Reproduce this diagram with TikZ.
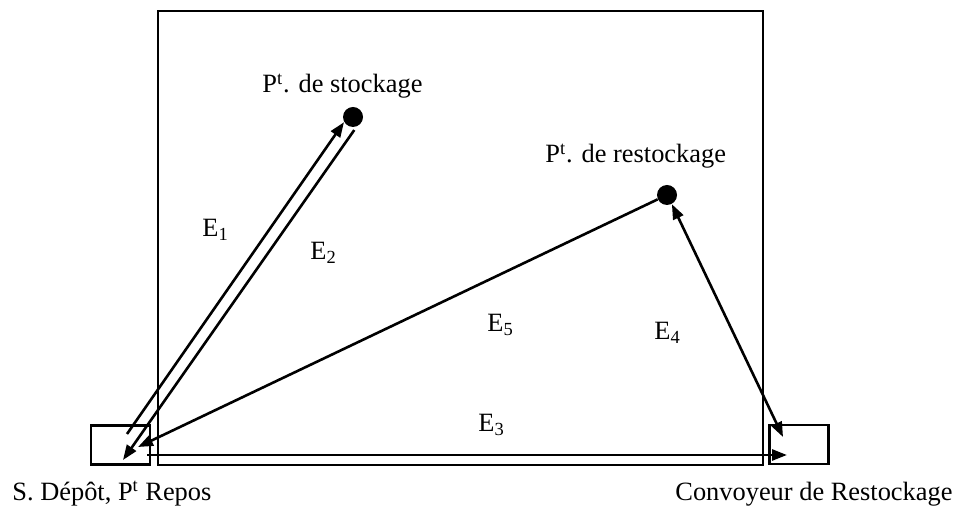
\documentclass[tikz,border=0pt]{standalone}
\usepackage{fontspec}
\setmainfont{Liberation Serif}
\usetikzlibrary{positioning,arrows.meta,calc}
\tikzset{
  zone/.style={rectangle, draw, line width=1.3pt, inner sep=0pt,
               minimum width=302.5pt, minimum height=227pt},
  quai/.style={rectangle, draw, line width=1.2pt, inner sep=0pt,
               minimum width=29.5pt, minimum height=19.5pt},
  pt/.style={circle, fill, inner sep=0pt, minimum size=10pt},
  lbl/.style={font=\fontsize{13.2}{15}\selectfont, inner sep=0pt},
  flow/.style={-{Triangle[length=7.5pt,width=5.5pt]}, line width=1.3pt},
  biflow/.style={{Triangle[length=7.5pt,width=5.5pt]}-{Triangle[length=7.5pt,width=5.5pt]},
                 line width=1.3pt},
}

\begin{document}
\begin{tikzpicture}[x=0.5pt,y=-0.5pt]
  \useasboundingbox (0,0) rectangle (956,506);

  % ===== storage area and its two ends =================================
  \node[zone] (zone) at (460.5,238) {};
  \node[quai] (depot) at (120.5,445) {};
  \node[quai] (conv)  at (799,444.5) {};

  % ===== points inside the area ========================================
  \node[pt] (stock) at (353,117) {};
  \node[pt] (rest)  at (667,195) {};

  % ===== texts =========================================================
  \node[lbl,anchor=base west] (tstock) at (262,93) {P\textsuperscript{t}. de stockage};
  \node[lbl,anchor=base west] (trest) at (545,163) {P\textsuperscript{t}. de restockage};
  \node[lbl,anchor=base west] (tdepot) at (12,500) {S. Dépôt, P\textsuperscript{t} Repos};
  \node[lbl,anchor=base west] (tconv) at (675,500) {Convoyeur de Restockage};

  \node[lbl,anchor=base west] (le1) at (202,237) {E\textsubscript{1}};
  \node[lbl,anchor=base west] (le2) at (310,260) {E\textsubscript{2}};
  \node[lbl,anchor=base west] (le3) at (478,432) {E\textsubscript{3}};
  \node[lbl,anchor=base west] (le4) at (654,340) {E\textsubscript{4}};
  \node[lbl,anchor=base west] (le5) at (487,332) {E\textsubscript{5}};

  % ends of the moves inside the two boxes
  \coordinate (d1) at (127,434);
  \coordinate (d2) at (123,460);
  \coordinate (d3) at (147,455);
  \coordinate (d5) at (138,447);
  \coordinate (c3) at (787,455);
  \coordinate (c4) at (783,437);

  % ===== moves =========================================================
  \draw[flow] (d1) -- (stock.210);
  \draw[flow,shorten <=2pt] (stock.-70) -- (d2);
  \draw[flow] (d3) -- (c3);
  \draw[biflow] (rest.-62) -- (c4);
  \draw[flow] (rest.205) -- (d5);

\end{tikzpicture}
\end{document}
